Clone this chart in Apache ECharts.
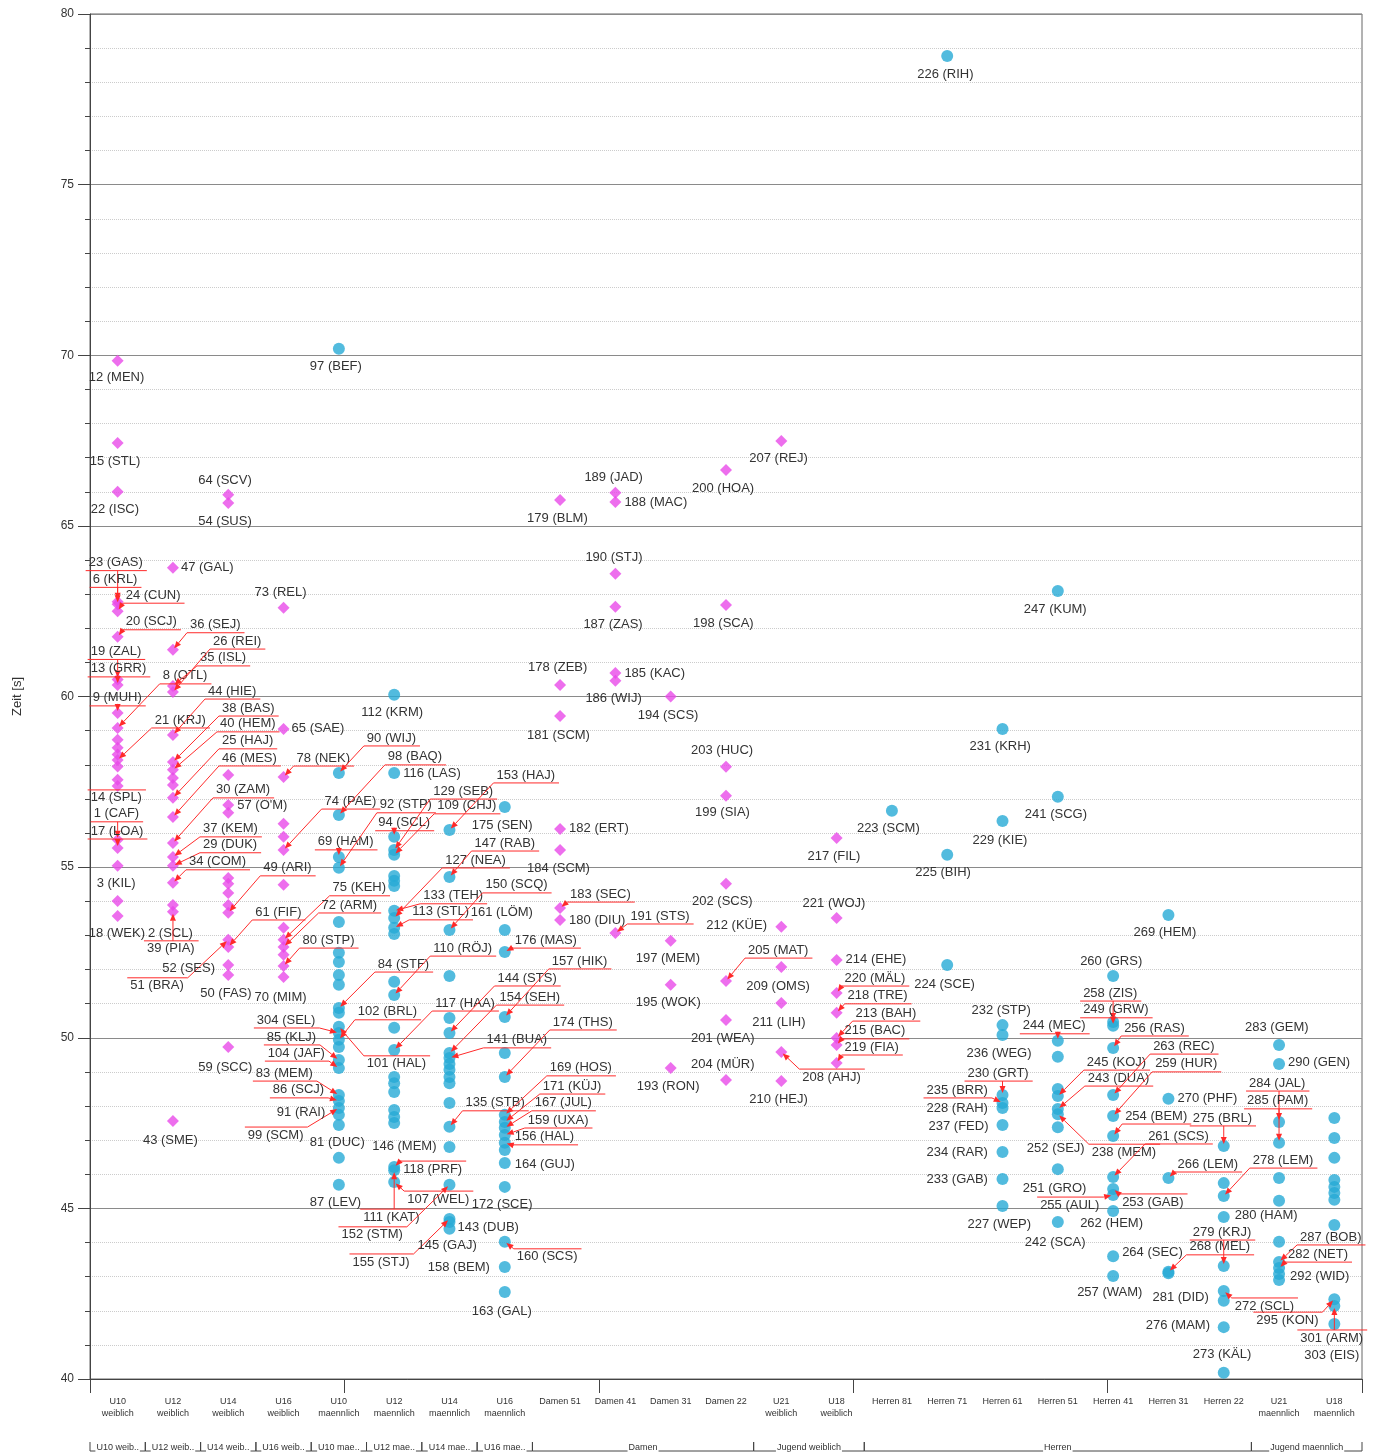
<!DOCTYPE html>
<html>
<head>
<meta charset="utf-8">
<script src="https://cdn.jsdelivr.net/npm/echarts@6/dist/echarts.min.js"></script>
<style>
html, body { margin: 0; padding: 0; background: #fff; }
#chart { width: 1376px; height: 1455px; }
</style>
</head>
<body>
<div id="chart"></div>
<script>
// Kategorien (x-Achse)
const categories = ['U10\nweiblich', 'U12\nweiblich', 'U14\nweiblich', 'U16\nweiblich',
    'U10\nmaennlich', 'U12\nmaennlich', 'U14\nmaennlich', 'U16\nmaennlich',
    'Damen 51', 'Damen 41', 'Damen 31', 'Damen 22', 'U21\nweiblich', 'U18\nweiblich',
    'Herren 81', 'Herren 71', 'Herren 61', 'Herren 51', 'Herren 41', 'Herren 31', 'Herren 22',
    'U21\nmaennlich', 'U18\nmaennlich']

// Gruppen der zweiten Zeile: [Text, von, bis]
const groups = [['U10 weib..', 0, 0], ['U12 weib..', 1, 1], ['U14 weib..', 2, 2], ['U16 weib..', 3, 3],
    ['U10 mae..', 4, 4], ['U12 mae..', 5, 5], ['U14 mae..', 6, 6], ['U16 mae..', 7, 7],
    ['Damen', 8, 11], ['Jugend weiblich', 12, 13], ['Herren', 14, 20], ['Jugend maennlich', 21, 22]]

// weibliche Kategorien (Raute), sonst Kreis
const femaleIdx = [0, 1, 2, 3, 8, 9, 10, 11, 12, 13]

// Zeiten je Kategorie: [Zeit, Beschriftung]
const u10w = [[69.84, '12 (MEN)'], [67.43, '15 (STL)'], [66.0, '22 (ISC)'], [62.78, '23 (GAS)'], [62.7, '6 (KRL)'],
    [62.5, '24 (CUN)'], [61.75, '20 (SCJ)'], [60.5, '19 (ZAL)'], [60.34, '13 (GRR)'], [59.52, '9 (MUH)'],
    [59.08, '8 (OTL)'], [58.73, ''], [58.5, ''], [58.3, ''], [58.14, '21 (KRJ)'], [57.95, ''], [57.56, ''],
    [57.38, '14 (SPL)'], [55.8, '1 (CAF)'], [55.56, '17 (LOA)'], [55.04, '3 (KIL)'], [54.01, ''], [53.57, '18 (WEK)']]
const u12w = [[63.77, '47 (GAL)'], [61.37, '36 (SEJ)'], [60.31, '35 (ISL)'], [60.13, '26 (REI)'], [58.87, '44 (HIE)'],
    [58.08, '38 (BAS)'], [57.85, '40 (HEM)'], [57.61, ''], [57.41, ''], [57.03, '25 (HAJ)'], [56.47, '46 (MES)'],
    [55.71, '30 (ZAM)'], [55.3, '37 (KEM)'], [55.04, '29 (DUK)'], [54.54, '34 (COM)'], [53.89, '2 (SCL)'],
    [53.69, '39 (PIA)'], [47.56, '43 (SME)']]
const u14w = [[65.91, '64 (SCV)'], [65.67, '54 (SUS)'], [57.7, ''], [56.82, "57 (O'M)"], [56.59, ''], [54.68, ''],
    [54.51, ''], [54.24, ''], [53.89, ''], [53.66, '49 (ARI)'], [52.87, '51 (BRA)'], [52.66, '61 (FIF)'],
    [52.13, '52 (SES)'], [51.84, '50 (FAS)'], [49.73, '59 (SCC)']]
const u16w = [[62.6, '73 (REL)'], [59.05, '65 (SAE)'], [57.64, '78 (NEK)'], [56.27, ''], [55.89, ''], [55.5, '74 (PAE)'],
    [54.48, ''], [53.22, ''], [52.87, '75 (KEH)'], [52.66, '72 (ARM)'], [52.43, ''], [52.1, '80 (STP)'], [51.78, '70 (MIM)']]
const u10m = [[70.19, '97 (BEF)'], [57.76, '90 (WIJ)'], [56.53, '98 (BAQ)'], [55.3, '69 (HAM)'], [54.98, '92 (STP)'],
    [53.39, ''], [52.49, ''], [52.22, ''], [51.84, ''], [51.55, ''], [50.87, '84 (STF)'], [50.73, ''],
    [50.32, '101 (HAL)'], [50.14, '304 (SEL)'], [49.94, '102 (BRL)'], [49.73, ''], [49.35, '85 (KLJ)'],
    [49.11, '104 (JAF)'], [48.32, '83 (MEM)'], [48.15, '86 (SCJ)'], [47.94, '99 (SCM)'], [47.74, '91 (RAI)'],
    [47.44, '81 (DUC)'], [46.48, ''], [45.69, '87 (LEV)']]
const u12m = [[60.05, '112 (KRM)'], [57.76, '116 (LAS)'], [55.89, '94 (SCL)'], [55.5, '129 (SEB)'], [55.36, '109 (CHJ)'],
    [54.74, ''], [54.6, ''], [54.45, ''], [53.72, '133 (TEH)'], [53.51, '127 (NEA)'], [53.22, '113 (STL)'],
    [53.04, ''], [51.64, ''], [51.25, '110 (RÖJ)'], [50.29, ''], [49.64, '117 (HAA)'], [48.85, ''], [48.67, ''],
    [48.41, ''], [47.88, ''], [47.68, ''], [47.5, '146 (MEM)'], [46.21, '118 (PRF)'], [46.12, '111 (KAT)'],
    [45.77, '107 (WEL)']]
const u14m = [[56.09, '153 (HAJ)'], [54.71, '147 (RAB)'], [53.16, '150 (SCQ)'], [51.81, ''], [50.58, ''],
    [50.14, '144 (STS)'], [49.55, '154 (SEH)'], [49.41, '141 (BUA)'], [49.23, ''], [49.06, ''], [48.85, ''],
    [48.67, ''], [48.09, ''], [47.39, '135 (STB)'], [46.8, ''], [45.69, '152 (STM)'], [44.69, '155 (STJ)'],
    [44.6, '143 (DUB)'], [44.4, '145 (GAJ)']]
const u16m = [[56.76, '175 (SEN)'], [53.16, '161 (LÖM)'], [52.51, '176 (MAS)'], [50.61, '157 (HIK)'], [49.55, ''],
    [48.85, '174 (THS)'], [47.74, '169 (HOS)'], [47.53, '171 (KÜJ)'], [47.36, '167 (JUL)'], [47.15, '159 (UXA)'],
    [46.92, '156 (HAL)'], [46.71, ''], [46.33, '164 (GUJ)'], [45.63, '172 (SCE)'], [44.02, '160 (SCS)'],
    [43.28, '158 (BEM)'], [42.55, '163 (GAL)']]
const d51 = [[65.76, '179 (BLM)'], [60.34, '178 (ZEB)'], [59.43, '181 (SCM)'], [56.12, '182 (ERT)'], [55.5, '184 (SCM)'],
    [53.8, '183 (SEC)'], [53.45, '180 (DIU)']]
const d41 = [[65.97, '189 (JAD)'], [65.7, '188 (MAC)'], [63.6, '190 (STJ)'], [62.63, '187 (ZAS)'], [60.69, '185 (KAC)'],
    [60.46, '186 (WIJ)'], [53.07, '191 (STS)']]
const d31 = [[60.0, '194 (SCS)'], [52.84, '197 (MEM)'], [51.55, '195 (WOK)'], [49.11, '193 (RON)']]
const d22 = [[66.64, '200 (HOA)'], [62.68, '198 (SCA)'], [57.94, '203 (HUC)'], [57.09, '199 (SIA)'], [54.51, '202 (SCS)'],
    [51.66, '205 (MAT)'], [50.52, '201 (WEA)'], [48.76, '204 (MÜR)']]
const u21w = [[67.49, '207 (REJ)'], [53.25, '212 (KÜE)'], [52.07, '209 (OMS)'], [51.02, '211 (LIH)'], [49.58, '208 (AHJ)'],
    [48.73, '210 (HEJ)']]
const u18w = [[55.85, '217 (FIL)'], [53.51, '221 (WOJ)'], [52.28, '214 (EHE)'], [51.31, '220 (MÄL)'], [50.73, '218 (TRE)'],
    [49.99, '213 (BAH)'], [49.79, '215 (BAC)'], [49.26, '219 (FIA)']]
const h81 = [[56.65, '223 (SCM)']]
const h71 = [[78.77, '226 (RIH)'], [55.36, '225 (BIH)'], [52.13, '224 (SCE)']]
const h61 = [[59.05, '231 (KRH)'], [56.35, '229 (KIE)'], [50.37, '232 (STP)'], [50.08, '236 (WEG)'], [48.32, '230 (GRT)'],
    [48.09, '235 (BRR)'], [47.94, '228 (RAH)'], [47.44, '237 (FED)'], [46.65, '234 (RAR)'], [45.86, '233 (GAB)'],
    [45.07, '227 (WEP)']]
const h51 = [[63.09, '247 (KUM)'], [57.06, '241 (SCG)'], [49.91, '244 (MEC)'], [49.44, ''], [48.5, ''], [48.29, '245 (KOJ)'],
    [47.91, '243 (DUA)'], [47.76, '238 (MEM)'], [47.38, '252 (SEJ)'], [46.15, '251 (GRO)'], [44.6, '242 (SCA)']]
const h41 = [[51.81, '260 (GRS)'], [50.46, '258 (ZIS)'], [50.35, '249 (GRW)'], [49.7, '256 (RAS)'], [48.32, '263 (REC)'],
    [47.71, '259 (HUR)'], [47.12, '254 (BEM)'], [45.92, '261 (SCS)'], [45.57, '253 (GAB)'], [45.39, '255 (AUL)'],
    [44.92, '262 (HEM)'], [43.6, '264 (SEC)'], [43.02, '257 (WAM)']]
const h31 = [[53.6, '269 (HEM)'], [48.21, '270 (PHF)'], [45.89, '266 (LEM)'], [43.14, '268 (MEL)'], [43.1, '281 (DID)']]
const h22 = [[46.83, '275 (BRL)'], [45.74, ''], [45.36, '278 (LEM)'], [44.75, '280 (HAM)'], [43.31, '279 (KRJ)'],
    [42.58, '272 (SCL)'], [42.29, ''], [41.52, '276 (MAM)'], [40.18, '273 (KÄL)']]
const u21m = [[49.79, '283 (GEM)'], [49.23, '290 (GEN)'], [47.53, '284 (JAL)'], [46.92, '285 (PAM)'], [45.89, ''],
    [45.22, ''], [44.02, ''], [43.43, '287 (BOB)'], [43.25, '282 (NET)'], [43.08, ''], [42.9, '292 (WID)']]
const u18m = [[47.65, ''], [47.06, ''], [46.48, ''], [45.83, ''], [45.63, ''], [45.45, ''], [45.25, ''], [44.51, ''],
    [42.34, '295 (KON)'], [42.14, '301 (ARM)'], [41.61, '303 (EIS)']]

const columns = [u10w, u12w, u14w, u16w, u10m, u12m, u14m, u16m, d51, d41, d31, d22, u21w, u18w,
    h81, h71, h61, h51, h41, h31, h22, u21m, u18m]

// Lage der Beschriftung zum Punkt in px: [dx (linker Rand), dy (Mitte), Hinweislinie]
const labelPlace = {
    '12 (MEN)': [-29, 17], '15 (STL)': [-28, 18], '22 (ISC)': [-27, 18], '23 (GAS)': [-29, -39, 1],
    '6 (KRL)': [-25, -25, 1], '24 (CUN)': [8, -16, 1], '20 (SCJ)': [8, -15, 1], '19 (ZAL)': [-27, -28, 1],
    '13 (GRR)': [-27, -16, 1], '9 (MUH)': [-25, -15, 1], '8 (OTL)': [45, -52, 1], '21 (KRJ)': [37, -40, 1],
    '14 (SPL)': [-27, 12, 1], '1 (CAF)': [-24, -26, 1], '17 (LOA)': [-27, -17, 1], '3 (KIL)': [-21, 18],
    '18 (WEK)': [-29, 17],
    '47 (GAL)': [8, 0], '36 (SEJ)': [17, -25, 1], '35 (ISL)': [27, -28, 1], '26 (REI)': [40, -51, 1],
    '44 (HIE)': [35, -44, 1], '38 (BAS)': [49, -54, 1], '40 (HEM)': [47, -46, 1], '25 (HAJ)': [49, -57, 1],
    '46 (MES)': [49, -59, 1], '30 (ZAM)': [43, -53, 1], '37 (KEM)': [30, -28, 1], '29 (DUK)': [30, -21, 1],
    '34 (COM)': [16, -21, 1], '2 (SCL)': [-25, 28], '39 (PIA)': [-26, 37, 1], '43 (SME)': [-30, 19],
    '64 (SCV)': [-30, -14], '54 (SUS)': [-30, 18], "57 (O'M)": [9, 0], '49 (ARI)': [35, -45, 1],
    '51 (BRA)': [-98, 46, 1], '61 (FIF)': [27, -35, 1], '52 (SES)': [-66, 3], '50 (FAS)': [-28, 18],
    '59 (SCC)': [-30, 20],
    '73 (REL)': [-29, -15], '65 (SAE)': [8, 0], '78 (NEK)': [13, -19, 1], '74 (PAE)': [41, -49, 1],
    '75 (KEH)': [49, -52, 1], '72 (ARM)': [38, -42, 1], '80 (STP)': [19, -26, 1], '70 (MIM)': [-29, 20],
    '97 (BEF)': [-29, 18], '90 (WIJ)': [28, -35, 1], '98 (BAQ)': [49, -58, 1], '69 (HAM)': [-21, -15, 1],
    '92 (STP)': [41, -63, 1], '84 (STF)': [39, -44, 1], '101 (HAL)': [28, 37, 1], '304 (SEL)': [-82, -13, 1],
    '102 (BRL)': [19, -28, 1], '85 (KLJ)': [-72, -23, 1], '104 (JAF)': [-71, -15, 1], '83 (MEM)': [-83, -22, 1],
    '86 (SCJ)': [-66, -11, 1], '99 (SCM)': [-91, 27, 1], '91 (RAI)': [-62, -2], '81 (DUC)': [-29, 17],
    '87 (LEV)': [-29, 18],
    '112 (KRM)': [-33, 18], '116 (LAS)': [9, 0], '94 (SCL)': [-16, -14, 1], '129 (SEB)': [39, -59, 1],
    '109 (CHJ)': [43, -49, 1], '133 (TEH)': [29, -15, 1], '127 (NEA)': [51, -58, 1], '113 (STL)': [18, -16, 1],
    '110 (RÖJ)': [39, -47, 1], '117 (HAA)': [41, -47, 1], '146 (MEM)': [-22, 23], '118 (PRF)': [9, 2, 1],
    '111 (KAT)': [-31, 47, 1], '107 (WEL)': [13, 17, 1],
    '153 (HAJ)': [47, -55, 1], '147 (RAB)': [25, -34, 1], '150 (SCQ)': [36, -45, 1], '144 (STS)': [48, -55, 1],
    '154 (SEH)': [50, -56, 1], '141 (BUA)': [37, -18, 1], '135 (STB)': [16, -24, 1], '152 (STM)': [-108, 50, 1],
    '155 (STJ)': [-97, 43, 1], '143 (DUB)': [8, 5], '145 (GAJ)': [-32, 17],
    '175 (SEN)': [-33, 18], '161 (LÖM)': [-34, -17], '176 (MAS)': [10, -12, 1], '157 (HIK)': [47, -56, 1],
    '174 (THS)': [48, -55, 1], '169 (HOS)': [45, -47, 1], '171 (KÜJ)': [38, -36, 1], '167 (JUL)': [30, -25, 1],
    '159 (UXA)': [23, -15, 1], '156 (HAL)': [10, -6, 1], '164 (GUJ)': [10, 1], '172 (SCE)': [-33, 18],
    '160 (SCS)': [12, 15, 1], '158 (BEM)': [-77, 0], '163 (GAL)': [-33, 19],
    '179 (BLM)': [-33, 18], '178 (ZEB)': [-32, -17], '181 (SCM)': [-33, 19], '182 (ERT)': [9, 0],
    '184 (SCM)': [-33, 18], '183 (SEC)': [10, -14, 1], '180 (DIU)': [9, 0],
    '189 (JAD)': [-31, -15], '188 (MAC)': [9, 0], '190 (STJ)': [-30, -16], '187 (ZAS)': [-32, 18],
    '185 (KAC)': [9, 0], '186 (WIJ)': [-30, 18], '191 (STS)': [15, -17, 1],
    '194 (SCS)': [-33, 19], '197 (MEM)': [-35, 18], '195 (WOK)': [-35, 18], '193 (RON)': [-34, 18],
    '200 (HOA)': [-34, 19], '198 (SCA)': [-33, 18], '203 (HUC)': [-35, -16], '199 (SIA)': [-31, 17],
    '202 (SCS)': [-34, 18], '205 (MAT)': [22, -31, 1], '201 (WEA)': [-35, 18], '204 (MÜR)': [-35, -16],
    '207 (REJ)': [-32, 18], '212 (KÜE)': [-75, -1], '209 (OMS)': [-35, 19], '211 (LIH)': [-29, 19],
    '208 (AHJ)': [21, 25, 1], '210 (HEJ)': [-32, 18],
    '217 (FIL)': [-29, 18], '221 (WOJ)': [-34, -15], '214 (EHE)': [9, -1], '220 (MÄL)': [8, -15, 1],
    '218 (TRE)': [11, -17, 1], '213 (BAH)': [19, -25, 1], '215 (BAC)': [8, -14, 1], '219 (FIA)': [8, -16, 1],
    '223 (SCM)': [-35, 18], '226 (RIH)': [-30, 18], '225 (BIH)': [-32, 18], '224 (SCE)': [-33, 19],
    '231 (KRH)': [-33, 18], '229 (KIE)': [-30, 19], '232 (STP)': [-31, -15], '236 (WEG)': [-36, 18],
    '230 (GRT)': [-35, -22, 1], '235 (BRR)': [-76, -13, 1], '228 (RAH)': [-76, 0], '237 (FED)': [-74, 1],
    '234 (RAR)': [-76, 0], '233 (GAB)': [-76, 0], '227 (WEP)': [-35, 18],
    '247 (KUM)': [-34, 18], '241 (SCG)': [-33, 18], '244 (MEC)': [-35, -15, 1], '245 (KOJ)': [29, -34, 1],
    '243 (DUA)': [30, -31, 1], '238 (MEM)': [34, 38, 1], '252 (SEJ)': [-31, 21], '251 (GRO)': [-35, 19],
    '242 (SCA)': [-33, 20],
    '260 (GRS)': [-33, -15], '258 (ZIS)': [-30, -29, 1], '249 (GRW)': [-30, -16, 1], '256 (RAS)': [11, -20, 1],
    '263 (REC)': [40, -49, 1], '259 (HUR)': [42, -52, 1], '254 (BEM)': [12, -20, 1], '261 (SCS)': [35, -41, 1],
    '253 (GAB)': [9, 13, 1], '255 (AUL)': [-73, 10, 1], '262 (HEM)': [-33, 12], '264 (SEC)': [9, -4],
    '257 (WAM)': [-36, 16],
    '269 (HEM)': [-35, 18], '270 (PHF)': [9, 0], '266 (LEM)': [9, -14, 1], '268 (MEL)': [21, -25, 1],
    '281 (DID)': [-16, 24],
    '275 (BRL)': [-31, -28, 1], '278 (LEM)': [29, -36, 1], '280 (HAM)': [11, -1], '279 (KRJ)': [-31, -34, 1],
    '272 (SCL)': [11, 15, 1], '276 (MAM)': [-78, -2], '273 (KÄL)': [-31, -18],
    '283 (GEM)': [-34, -17], '290 (GEN)': [9, -2], '284 (JAL)': [-30, -39, 1], '285 (PAM)': [-32, -42, 1],
    '287 (BOB)': [21, -25, 1], '282 (NET)': [9, -14, 1], '292 (WID)': [11, -4],
    '295 (KON)': [-78, 21, 1], '301 (ARM)': [-34, 32, 1], '303 (EIS)': [-30, 31]
}

const LABEL_FONT = '13px "Liberation Sans", Arial, sans-serif'
const RED = '#ff2a2a'

//Punkte und Beschriftungen aufbauen
const femaleData = []
const maleData = []
const labelItems = []
columns.forEach((col, i) => {
    col.forEach(p => {
        const target = femaleIdx.indexOf(i) >= 0 ? femaleData : maleData
        target.push([i, p[0]])
        if (p[1]) {
            labelItems.push({ cat: i, v: p[0], text: p[1] })
        }
    })
})

//Textbreite messen
const measureCtx = document.createElement('canvas').getContext('2d')
measureCtx.font = LABEL_FONT
function textWidth(t) {
    return measureCtx.measureText(t).width
}

//Beschriftung mit Hinweislinie zeichnen
function renderLabel(params, api) {
    const item = labelItems[params.dataIndex]
    const p = api.coord([api.value(0), api.value(1)])
    const place = labelPlace[item.text] || [8, 0]
    const lx = p[0] + place[0]
    const ly = p[1] + place[1]
    const children = []
    if (place[2]) {
        const w = textWidth(item.text)
        const uy = ly > p[1] ? ly - 8 : ly + 8
        const u0 = lx - 3
        const u1 = lx + w + 4
        children.push({ type: 'line', shape: { x1: u0, y1: uy, x2: u1, y2: uy }, style: { stroke: RED, lineWidth: 1 } })
        const sx = Math.min(Math.max(p[0], u0), u1)
        const dx = p[0] - sx
        const dy = p[1] - uy
        const len = Math.sqrt(dx * dx + dy * dy)
        if (len > 4) {
            const ux = dx / len
            const uyy = dy / len
            const tip = [p[0] - ux * 2, p[1] - uyy * 2]
            const base = [tip[0] - ux * 7, tip[1] - uyy * 7]
            children.push({ type: 'line', shape: { x1: sx, y1: uy, x2: base[0], y2: base[1] }, style: { stroke: RED, lineWidth: 1 } })
            children.push({
                type: 'polygon',
                shape: { points: [tip, [base[0] - uyy * 3, base[1] + ux * 3], [base[0] + uyy * 3, base[1] - ux * 3]] },
                style: { fill: RED }
            })
        }
    }
    children.push({
        type: 'text',
        style: {
            text: item.text, x: lx, y: ly, font: LABEL_FONT, fill: '#333',
            textAlign: 'left', textVerticalAlign: 'middle', align: 'left', verticalAlign: 'middle'
        }
    })
    return { type: 'group', children: children }
}

const chart = echarts.init(document.getElementById('chart'))
const option = {
    animation: false,
    grid: { left: 90, right: 14, top: 14, bottom: 76, show: true, borderColor: '#666', borderWidth: 1 },
    xAxis: [{
        type: 'category',
        data: categories,
        axisLine: { lineStyle: { color: '#444' } },
        axisTick: { show: false },
        axisLabel: {
            interval: 0, fontSize: 9, lineHeight: 12, color: '#333', margin: 17,
            fontFamily: '"Liberation Sans", Arial, sans-serif'
        },
        splitLine: { show: false }
    }, {
        type: 'value',
        position: 'bottom',
        min: 0,
        max: 5,
        interval: 1,
        axisLine: { show: false },
        axisLabel: { show: false },
        axisTick: { show: true, length: 14, lineStyle: { color: '#444' } },
        splitLine: { show: false }
    }],
    yAxis: {
        type: 'value',
        min: 40,
        max: 80,
        interval: 5,
        name: 'Zeit [s]',
        nameLocation: 'middle',
        nameGap: 66,
        nameTextStyle: { fontSize: 13, color: '#333', fontFamily: '"Liberation Sans", Arial, sans-serif' },
        axisLine: { show: true, lineStyle: { color: '#444' } },
        axisTick: { show: true, length: 12, lineStyle: { color: '#444' } },
        minorTick: { show: true, splitNumber: 5, length: 5, lineStyle: { color: '#444' } },
        axisLabel: { fontSize: 12, color: '#333', margin: 16, fontFamily: '"Liberation Sans", Arial, sans-serif' },
        splitLine: { show: true, lineStyle: { color: '#8a8a8a', width: 1 } },
        minorSplitLine: { show: true, lineStyle: { color: '#cccccc', type: 'dotted', width: 1 } }
    },
    series: [{
        type: 'scatter',
        data: femaleData,
        symbol: 'diamond',
        symbolSize: 12,
        itemStyle: { color: '#e84ae8' },
        z: 3
    }, {
        type: 'scatter',
        data: maleData,
        symbol: 'circle',
        symbolSize: 12,
        itemStyle: { color: '#27aad6' },
        z: 3
    }, {
        type: 'custom',
        data: labelItems.map(it => [it.cat, it.v]),
        renderItem: renderLabel,
        clip: false,
        silent: true,
        z: 10
    }]
}
chart.setOption(option)

//Gruppenklammern unter der Achse
function drawGroups() {
    const c0 = chart.convertToPixel({ xAxisIndex: 0 }, 0)
    const bw = chart.convertToPixel({ xAxisIndex: 0 }, 1) - c0
    const y = 1451
    const elements = []
    groups.forEach(g => {
        const x0 = chart.convertToPixel({ xAxisIndex: 0 }, g[1]) - bw / 2
        const x1 = chart.convertToPixel({ xAxisIndex: 0 }, g[2]) + bw / 2
        elements.push({ type: 'line', shape: { x1: x0, y1: y, x2: x1, y2: y }, style: { stroke: '#444', lineWidth: 1 }, z: 1 })
        elements.push({ type: 'line', shape: { x1: x0, y1: y - 9, x2: x0, y2: y }, style: { stroke: '#444', lineWidth: 1 }, z: 1 })
        elements.push({ type: 'line', shape: { x1: x1, y1: y - 9, x2: x1, y2: y }, style: { stroke: '#444', lineWidth: 1 }, z: 1 })
        elements.push({
            type: 'text', z: 2,
            style: {
                text: g[0], x: (x0 + x1) / 2, y: y - 3, fill: '#333',
                font: '9px "Liberation Sans", Arial, sans-serif',
                textAlign: 'center', textVerticalAlign: 'middle', align: 'center', verticalAlign: 'middle',
                backgroundColor: '#fff', padding: [0, 1]
            }
        })
    })
    chart.setOption({ graphic: elements })
}
drawGroups()
</script>
</body>
</html>
